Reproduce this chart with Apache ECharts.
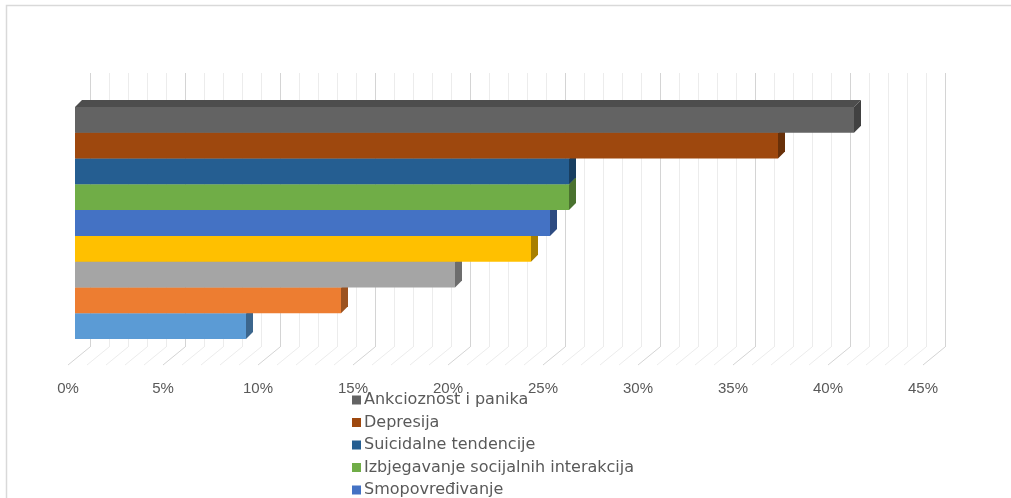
<!DOCTYPE html>
<html>
<head>
<meta charset="utf-8">
<script src="https://cdn.jsdelivr.net/npm/echarts@6/dist/echarts.min.js"></script>
<style>
html,body{margin:0;padding:0;background:#fff;}
#chart{width:1011px;height:498px;}
</style>
</head>
<body>
<div id="chart"></div>
<script>
// Categories (bars listed top to bottom)
const categories = [
  'Ankcioznost i panika',
  'Depresija',
  'Suicidalne tendencije',
  'Izbjegavanje socijalnih interakcija',
  'Smopovređivanje',
  'Serija 6',
  'Serija 7',
  'Serija 8',
  'Serija 9'
];
// Values in percent
const values = [41, 37, 26, 26, 25, 24, 20, 14, 9];
const colors = ['#636363', '#9E480E', '#255E91', '#70AD47', '#4472C4', '#FFC000', '#A5A5A5', '#ED7D31', '#5B9BD5'];
// Legend entries visible in the picture
const legendNames = categories.slice(0, 5);
// Axis ticks (percent)
const axisMin = 0, axisMax = 45, axisStep = 5, minorStep = 1;
const gridTicks = [];
for (let t = axisMin; t <= axisMax; t += minorStep) gridTicks.push(t);

function shade(hex, f) {
  const n = parseInt(hex.slice(1), 16);
  const r = Math.round(((n >> 16) & 255) * f);
  const g = Math.round(((n >> 8) & 255) * f);
  const b = Math.round((n & 255) * f);
  return 'rgb(' + r + ',' + g + ',' + b + ')';
}

const D = 7; // 3D depth offset (px)
const FLOOR_DX = -22, FLOOR_DY = 18;

const series = [];
// floor diagonals of the back-wall grid
series.push({
  type: 'custom',
  xAxisIndex: 1, yAxisIndex: 1,
  silent: true, z: 1,
  data: gridTicks.map(t => [t, 0]),
  renderItem: function (params, api) {
    const t = api.value(0);
    const p = api.coord([t, 0]);
    const major = (t % axisStep) === 0;
    return {
      type: 'line',
      shape: { x1: p[0], y1: p[1], x2: p[0] + FLOOR_DX, y2: p[1] + FLOOR_DY },
      style: { stroke: major ? '#d4d4d4' : '#ececec', lineWidth: 1 }
    };
  }
});

// bars: draw bottom first so upper bars overlay
for (let i = categories.length - 1; i >= 0; i--) {
  const col = colors[i];
  series.push({
    name: categories[i],
    type: 'custom',
    xAxisIndex: 0, yAxisIndex: 0,
    z: 5,
    itemStyle: { color: col },
    data: [[values[i], i]],
    renderItem: function (params, api) {
      const v = api.value(0), idx = api.value(1);
      const p0 = api.coord([0, idx]);
      const p1 = api.coord([v, idx]);
      const h = api.size([0, 1])[1];
      const y0 = p0[1] - h / 2, y1 = p0[1] + h / 2;
      const x0 = p0[0], x1 = p1[0];
      return {
        type: 'group',
        children: [
          { type: 'polygon', shape: { points: [[x0, y0], [x0 + D, y0 - D], [x1 + D, y0 - D], [x1, y0]] },
            style: { fill: shade(col, 0.78) } },
          { type: 'polygon', shape: { points: [[x1, y0], [x1 + D, y0 - D], [x1 + D, y1 - D], [x1, y1]] },
            style: { fill: shade(col, 0.66) } },
          { type: 'rect', shape: { x: x0, y: y0, width: x1 - x0, height: y1 - y0 },
            style: { fill: col } }
        ]
      };
    }
  });
}

const axisFont = '"Liberation Sans", Arial, sans-serif';
const legendFont = '"DejaVu Sans", "Liberation Sans", sans-serif';
const option = {
  animation: false,
  backgroundColor: '#ffffff',
  graphic: [{
    type: 'rect', silent: true,
    shape: { x: 6.5, y: 5.5, width: 1200, height: 800 },
    style: { fill: 'none', stroke: '#d9d9d9', lineWidth: 1.5 }
  }],
  legend: {
    data: legendNames,
    orient: 'vertical',
    left: 352, top: 392,
    padding: 0,
    height: 300,
    itemWidth: 9, itemHeight: 9,
    itemGap: 6.5,
    icon: 'rect',
    textStyle: { color: '#595959', fontSize: 16, lineHeight: 16, fontFamily: legendFont, padding: [0, 0, 0, -2] }
  },
  grid: [
    { left: 75, top: 107, width: 855, height: 232 },   // bars
    { left: 90, top: 73, width: 855, height: 274 },    // back wall grid
    { left: 68, top: 73, width: 855, height: 292 }     // front labels
  ],
  xAxis: [
    { gridIndex: 0, type: 'value', min: axisMin, max: axisMax, interval: axisStep, show: false },
    { gridIndex: 1, type: 'value', min: axisMin, max: axisMax, interval: axisStep,
      axisLine: { show: false }, axisTick: { show: false }, axisLabel: { show: false },
      splitLine: { show: true, lineStyle: { color: '#d4d4d4', width: 1 } },
      minorTick: { show: false, splitNumber: axisStep / minorStep },
      minorSplitLine: { show: true, lineStyle: { color: '#ececec', width: 1 } } },
    { gridIndex: 2, type: 'value', min: axisMin, max: axisMax, interval: axisStep,
      axisLine: { show: false }, axisTick: { show: false }, splitLine: { show: false },
      axisLabel: { show: true, margin: 16, color: '#595959', fontSize: 15, fontFamily: axisFont,
        formatter: '{value}%' } }
  ],
  yAxis: [
    { gridIndex: 0, type: 'category', data: categories, inverse: true, show: false },
    { gridIndex: 1, type: 'value', min: 0, max: 1, show: false },
    { gridIndex: 2, type: 'value', min: 0, max: 1, show: false }
  ],
  series: series
};
const chart = echarts.init(document.getElementById('chart'));
chart.setOption(option);
</script>
</body>
</html>
